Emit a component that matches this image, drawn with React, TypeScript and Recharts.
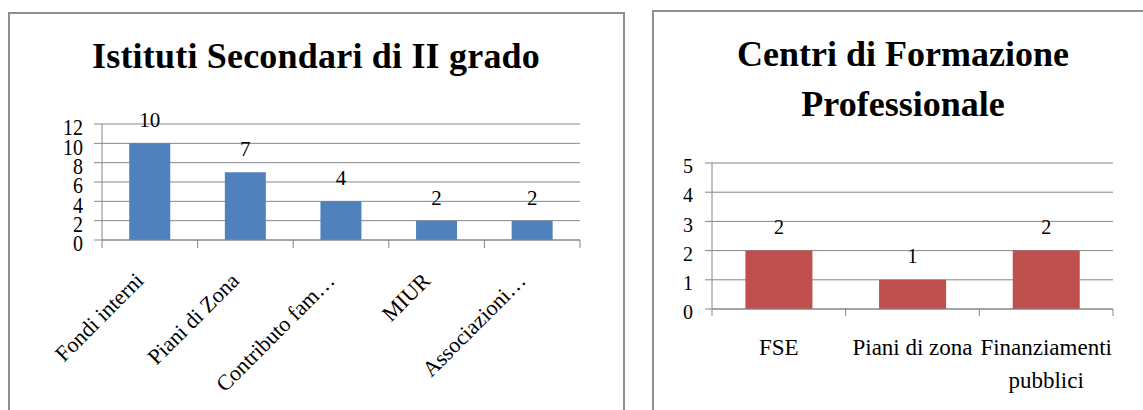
import React from "react";
import { BarChart, Bar, XAxis, YAxis, CartesianGrid, LabelList, Text } from "recharts";

const istCategories = ["Fondi interni", "Piani di Zona", "Contributo fam…", "MIUR", "Associazioni…"];
const istValues = [10, 7, 4, 2, 2];
const istTicks = [0, 2, 4, 6, 8, 10, 12];

const cfpCategories = ["FSE", "Piani di zona", "Finanziamenti pubblici"];
const cfpValues = [2, 1, 2];
const cfpTicks = [0, 1, 2, 3, 4, 5];

const istTitle = "Istituti Secondari di II grado";
const cfpTitle = ["Centri di Formazione", "Professionale"];

const istData = istCategories.map((name, i) => ({ name, value: istValues[i] }));
const cfpData = cfpCategories.map((name, i) => ({ name, value: cfpValues[i] }));

const FONT = "Liberation Serif, Times New Roman, serif";
const GRID = "#868686";
const BLUE = "#4F81BD";
const RED = "#C0504D";

function LeftYTick(props: any) {
  const { x, y, payload } = props;
  return (
    <g transform={`translate(${x},${y + 3}) scale(1,1.18)`}>
      <text x={0} y={0} dy="0.355em" textAnchor="end" fontSize={20} fontFamily={FONT} fill="#000">
        {payload.value}
      </text>
    </g>
  );
}

function RightYTick(props: any) {
  const { x, y, payload } = props;
  return (
    <text x={x} y={y + 3} dy="0.355em" textAnchor="end" fontSize={20} fontFamily={FONT} fill="#000">
      {payload.value}
    </text>
  );
}

function LeftXTick(props: any) {
  const { x, y, payload, index } = props;
  const off = payload && typeof payload.offset === "number" && payload.offset > 0 ? payload.offset : 47.8;
  const ax = x - 5;
  const ay = y + 42;
  return (
    <g>
      <line x1={x - off} x2={x - off} y1={y} y2={y + 8} stroke={GRID} strokeWidth={1} />
      {index === istCategories.length - 1 && (
        <line x1={x + off} x2={x + off} y1={y} y2={y + 8} stroke={GRID} strokeWidth={1} />
      )}
      <text
        x={ax}
        y={ay}
        transform={`rotate(-45, ${ax}, ${ay})`}
        textAnchor="end"
        fontSize={22}
        fontFamily={FONT}
        fill="#000"
      >
        {payload.value}
      </text>
    </g>
  );
}

function RightXTick(props: any) {
  const { x, y, payload, index } = props;
  const off = payload && typeof payload.offset === "number" && payload.offset > 0 ? payload.offset : 66.8;
  return (
    <g>
      <line x1={x - off} x2={x - off} y1={y} y2={y + 7} stroke={GRID} strokeWidth={1} />
      {index === cfpCategories.length - 1 && (
        <line x1={x + off} x2={x + off} y1={y} y2={y + 7} stroke={GRID} strokeWidth={1} />
      )}
      <Text
        x={x}
        y={y + 30}
        width={off * 2}
        textAnchor="middle"
        verticalAnchor="start"
        lineHeight={33}
        fontSize={23}
        fontFamily={FONT}
        fill="#000"
      >
        {payload.value}
      </Text>
    </g>
  );
}

export default function App() {
  return (
    <div
      style={{
        position: "absolute",
        left: 0,
        top: 0,
        width: 1143,
        height: 410,
        overflow: "hidden",
        background: "#fff",
        fontFamily: FONT,
      }}
    >
      {/* Left panel */}
      <div
        style={{
          position: "absolute",
          left: 8,
          top: 12,
          width: 617,
          height: 420,
          border: "2px solid #8f8f8f",
          boxSizing: "border-box",
        }}
      />
      <div
        style={{
          position: "absolute",
          left: 8,
          top: 31,
          width: 616,
          textAlign: "center",
          fontSize: 36,
          fontWeight: "bold",
          lineHeight: "50px",
          letterSpacing: "0.2px",
          color: "#000",
          whiteSpace: "nowrap",
        }}
      >
        {istTitle}
      </div>
      <div style={{ position: "absolute", left: 0, top: 0 }}>
        <BarChart
          width={630}
          height={410}
          data={istData}
          margin={{ top: 124, right: 50, bottom: 70, left: 42 }}
          barCategoryGap="28.5%"
        >
          <CartesianGrid vertical={false} stroke={GRID} strokeWidth={1} />
          <XAxis
            dataKey="name"
            interval={0}
            height={100}
            axisLine={{ stroke: GRID, strokeWidth: 1 }}
            tickLine={false}
            tickSize={0}
            tickMargin={0}
            tick={(p: any) => <LeftXTick {...p} />}
          />
          <YAxis
            width={60}
            domain={[0, 12]}
            ticks={istTicks}
            interval={0}
            axisLine={{ stroke: GRID, strokeWidth: 1 }}
            tickLine={{ stroke: GRID, strokeWidth: 1 }}
            tickSize={8}
            tickMargin={11}
            tick={(p: any) => <LeftYTick {...p} />}
          />
          <Bar dataKey="value" fill={BLUE} isAnimationActive={false}>
            <LabelList
              dataKey="value"
              position="top"
              offset={16}
              fill="#000"
              fontSize={21}
              fontFamily={FONT}
            />
          </Bar>
        </BarChart>
      </div>

      {/* Right panel */}
      <div
        style={{
          position: "absolute",
          left: 652,
          top: 10,
          width: 600,
          height: 420,
          border: "2px solid #8f8f8f",
          boxSizing: "border-box",
        }}
      />
      <div
        style={{
          position: "absolute",
          left: 652,
          top: 29,
          width: 502,
          textAlign: "center",
          fontSize: 36,
          fontWeight: "bold",
          lineHeight: "50px",
          color: "#000",
          whiteSpace: "nowrap",
        }}
      >
        {cfpTitle.map((t, i) => (
          <div key={i}>{t}</div>
        ))}
      </div>
      <div style={{ position: "absolute", left: 640, top: 0 }}>
        <BarChart
          width={503}
          height={410}
          data={cfpData}
          margin={{ top: 163, right: 30, bottom: 11, left: 22 }}
          barCategoryGap="25%"
        >
          <CartesianGrid vertical={false} stroke={GRID} strokeWidth={1} />
          <XAxis
            dataKey="name"
            interval={0}
            height={90}
            axisLine={{ stroke: GRID, strokeWidth: 1 }}
            tickLine={false}
            tickSize={0}
            tickMargin={0}
            tick={(p: any) => <RightXTick {...p} />}
          />
          <YAxis
            width={50}
            domain={[0, 5]}
            ticks={cfpTicks}
            interval={0}
            axisLine={{ stroke: GRID, strokeWidth: 1 }}
            tickLine={{ stroke: GRID, strokeWidth: 1 }}
            tickSize={7}
            tickMargin={12}
            tick={(p: any) => <RightYTick {...p} />}
          />
          <Bar dataKey="value" fill={RED} isAnimationActive={false}>
            <LabelList
              dataKey="value"
              position="top"
              offset={17}
              fill="#000"
              fontSize={20}
              fontFamily={FONT}
            />
          </Bar>
        </BarChart>
      </div>
    </div>
  );
}
